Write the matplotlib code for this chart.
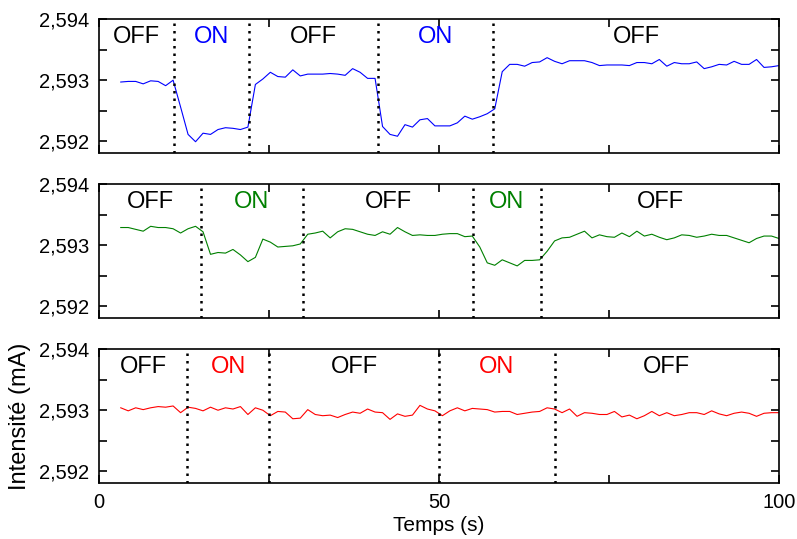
import matplotlib
matplotlib.use("Agg")
import matplotlib.pyplot as plt
import numpy as np
from matplotlib.ticker import FuncFormatter, MultipleLocator

plt.rcParams["font.family"] = ["Liberation Sans", "DejaVu Sans"]

# ─── Data ──────────────────────────────────────────────────────────────────────
# sampling: first point near 3.2 s, last at 100 s, ~1.1 s step
t_start, t_end = 3.2, 100.0

blue = [
    2.59297, 2.59298, 2.59298, 2.59294, 2.59299, 2.59298, 2.59291, 2.59300,
    2.59256, 2.59211, 2.59199, 2.59213, 2.59211, 2.59219, 2.59222, 2.59221,
    2.59219, 2.59223, 2.59293, 2.59302, 2.59313, 2.59306, 2.59305, 2.59317,
    2.59307, 2.59310, 2.59310, 2.59310, 2.59311, 2.59310, 2.59308, 2.59319,
    2.59313, 2.59303, 2.59303, 2.59224, 2.59211, 2.59208, 2.59227, 2.59223,
    2.59235, 2.59237, 2.59225, 2.59225, 2.59225, 2.59230, 2.59241, 2.59236,
    2.59240, 2.59245, 2.59253, 2.59314, 2.59326, 2.59326, 2.59323, 2.59329,
    2.59330, 2.59337, 2.59331, 2.59327, 2.59332, 2.59332, 2.59332, 2.59329,
    2.59324, 2.59325, 2.59325, 2.59325, 2.59324, 2.59329, 2.59329, 2.59327,
    2.59334, 2.59323, 2.59329, 2.59327, 2.59327, 2.59330, 2.59319, 2.59322,
    2.59326, 2.59325, 2.59331, 2.59326, 2.59326, 2.59334, 2.59321, 2.59322,
    2.59324,
]

green = [
    2.59329, 2.59329, 2.59326, 2.59323, 2.59331, 2.59329, 2.59329, 2.59327,
    2.59320, 2.59327, 2.59331, 2.59322, 2.59285, 2.59288, 2.59287, 2.59293,
    2.59284, 2.59273, 2.59280, 2.59310, 2.59305, 2.59297, 2.59298, 2.59299,
    2.59302, 2.59318, 2.59320, 2.59323, 2.59312, 2.59322, 2.59327, 2.59326,
    2.59322, 2.59318, 2.59316, 2.59322, 2.59318, 2.59329, 2.59322, 2.59316,
    2.59317, 2.59316, 2.59316, 2.59318, 2.59319, 2.59319, 2.59314, 2.59315,
    2.59297, 2.59271, 2.59267, 2.59276, 2.59271, 2.59266, 2.59275, 2.59275,
    2.59276, 2.59290, 2.59307, 2.59312, 2.59313, 2.59318, 2.59323, 2.59312,
    2.59317, 2.59314, 2.59313, 2.59320, 2.59314, 2.59323, 2.59315, 2.59318,
    2.59313, 2.59309, 2.59312, 2.59317, 2.59316, 2.59313, 2.59315, 2.59318,
    2.59316, 2.59316, 2.59312, 2.59308, 2.59304, 2.59311, 2.59315, 2.59315,
    2.59311,
]

red = [
    2.59304, 2.59299, 2.59304, 2.59301, 2.59304, 2.59306, 2.59305, 2.59307,
    2.59296, 2.59305, 2.59303, 2.59299, 2.59305, 2.59300, 2.59304, 2.59302,
    2.59306, 2.59293, 2.59304, 2.59300, 2.59291, 2.59298, 2.59297, 2.59286,
    2.59287, 2.59301, 2.59293, 2.59291, 2.59292, 2.59288, 2.59293, 2.59297,
    2.59295, 2.59302, 2.59297, 2.59296, 2.59285, 2.59294, 2.59290, 2.59292,
    2.59308, 2.59302, 2.59299, 2.59291, 2.59299, 2.59304, 2.59299, 2.59303,
    2.59302, 2.59301, 2.59297, 2.59298, 2.59298, 2.59293, 2.59295, 2.59297,
    2.59298, 2.59304, 2.59302, 2.59296, 2.59302, 2.59290, 2.59296, 2.59295,
    2.59293, 2.59293, 2.59298, 2.59289, 2.59292, 2.59286, 2.59291, 2.59298,
    2.59291, 2.59296, 2.59291, 2.59293, 2.59296, 2.59296, 2.59293, 2.59299,
    2.59294, 2.59291, 2.59295, 2.59297, 2.59295, 2.59290, 2.59295, 2.59296,
    2.59296,
]

# ON/OFF switching times (s) for each panel
switch_blue = [11, 22, 41, 58]
switch_green = [15, 30, 55, 65]
switch_red = [13, 25, 50, 67]
states = ["OFF", "ON", "OFF", "ON", "OFF"]

series = [
    (blue, switch_blue, "#0000ff"),
    (green, switch_green, "#008000"),
    (red, switch_red, "#ff0000"),
]

# ─── Figure ────────────────────────────────────────────────────────────────────
fig = plt.figure(figsize=(7.97, 5.39), dpi=100)
left, width, height = 0.1242, 0.8532, 0.2486
bottoms = [0.7156, 0.4095, 0.1033]

comma_fmt = FuncFormatter(lambda v, pos: f"{v:.3f}".replace(".", ","))

for (vals, switches, color), bottom in zip(series, bottoms):
    ax = fig.add_axes([left, bottom, width, height])
    t = np.linspace(t_start, t_end, len(vals))
    ax.plot(t, vals, color=color, lw=0.8)

    for s in switches:
        ax.axvline(s, color="black", lw=1.8, linestyle=(0, (1, 2)))

    edges = [0] + switches + [100]
    for i, label in enumerate(states):
        mid = 0.5 * (edges[i] + edges[i + 1])
        ax.text(mid, 0.87, label, transform=ax.get_xaxis_transform(),
                ha="center", va="center", fontsize=17,
                color=color if label == "ON" else "black")

    ax.set_xlim(0, 100)
    ax.set_ylim(2.5918, 2.594)
    ax.yaxis.set_major_locator(MultipleLocator(0.001))
    ax.yaxis.set_minor_locator(MultipleLocator(0.0005))
    ax.yaxis.set_major_formatter(comma_fmt)
    ax.xaxis.set_major_locator(MultipleLocator(50))
    ax.xaxis.set_minor_locator(MultipleLocator(25))
    ax.tick_params(which="both", direction="in", top=True, right=True,
                   width=1.2, labelsize=14.5)
    ax.tick_params(which="major", length=6, pad=7)
    ax.tick_params(which="minor", length=6)
    for sp in ax.spines.values():
        sp.set_linewidth(1.2)

    if bottom != bottoms[-1]:
        ax.tick_params(labelbottom=False)
    else:
        ax.tick_params(axis="x", pad=7)
        ax.set_xlabel("Temps (s)", fontsize=15, labelpad=3)
        ax.set_ylabel("Intensité (mA)", fontsize=17, labelpad=6)

plt.savefig("out.png", dpi=100)
plt.close()
